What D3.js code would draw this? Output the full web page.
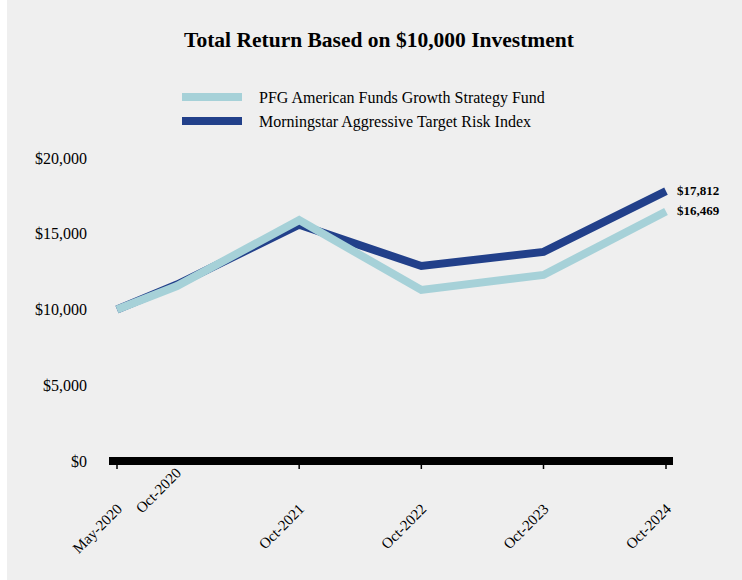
<!DOCTYPE html>
<html>
<head>
<meta charset="utf-8">
<script src="https://cdn.jsdelivr.net/npm/d3@7"></script>
<style>
  html, body { margin: 0; padding: 0; background: #fff; }
  svg { display: block; }
</style>
</head>
<body>
<svg id="chart" width="742" height="580"></svg>
<script>
const periods = ["May-2020", "Oct-2020", "Oct-2021", "Oct-2022", "Oct-2023", "Oct-2024"];
const fundValues = [10000, 11550, 15900, 11290, 12280, 16469];
const indexValues = [10000, 11650, 15600, 12870, 13800, 17812];
const yTicks = [0, 5000, 10000, 15000, 20000];
const seriesNames = ["PFG American Funds Growth Strategy Fund", "Morningstar Aggressive Target Risk Index"];

const COLORS = { fund: "#a6d1d8", index: "#22408a", bg: "#efefef", text: "#000" };
const FONT = "'Liberation Serif', 'Times New Roman', serif";

const svg = d3.select("#chart");
const W = 742, H = 580;

svg.append("rect").attr("x", 7).attr("y", 0).attr("width", W - 7).attr("height", H)
  .attr("fill", COLORS.bg);

const parse = d3.timeParse("%b-%Y");
const dates = periods.map(parse);

// first gap is drawn a bit wider than the calendar would give
const xScale = d3.scaleTime()
  .domain([dates[0], dates[1], dates[dates.length - 1]])
  .range([117, 177, 666]);
const yScale = d3.scaleLinear().domain([0, 20000]).range([461, 158]);

// Title
svg.append("text")
  .attr("x", 379).attr("y", 47)
  .attr("text-anchor", "middle")
  .attr("font-family", FONT).attr("font-weight", "bold").attr("font-size", "21.5px")
  .attr("fill", COLORS.text)
  .text("Total Return Based on $10,000 Investment");

// Legend
const legend = svg.append("g");
[COLORS.fund, COLORS.index].forEach((c, i) => {
  const y = 97 + i * 24;
  legend.append("line")
    .attr("x1", 182).attr("x2", 242).attr("y1", y).attr("y2", y)
    .attr("stroke", c).attr("stroke-width", 8);
  legend.append("text")
    .attr("x", 259).attr("y", y + 6)
    .attr("font-family", FONT).attr("font-size", "16px").attr("fill", COLORS.text)
    .text(seriesNames[i]);
});

// Y axis labels
const yAxis = d3.axisLeft(yScale).tickValues(yTicks).tickSize(0).tickPadding(0)
  .tickFormat(d => "$" + d3.format(",")(d));
const gy = svg.append("g").attr("transform", "translate(87,0)").call(yAxis);
gy.select(".domain").remove();
gy.selectAll("text").attr("font-family", FONT).attr("font-size", "16px").attr("fill", COLORS.text);

// X axis: thick bar + ticks
const gx = svg.append("g");
gx.append("line")
  .attr("x1", xScale(dates[0]) - 8).attr("x2", xScale(dates[dates.length - 1]) + 7)
  .attr("y1", yScale(0)).attr("y2", yScale(0))
  .attr("stroke", "#000").attr("stroke-width", 8);
gx.selectAll(".tick").data(dates.filter((d, i) => i !== 1)).join("line")
  .attr("x1", d => xScale(d)).attr("x2", d => xScale(d))
  .attr("y1", yScale(0)).attr("y2", yScale(0) + 8)
  .attr("stroke", "#000").attr("stroke-width", 1.5);
gx.selectAll(".xlab").data(dates).join("text")
  .attr("transform", (d, i) => `translate(${xScale(d) + (i === 1 ? 5 : 6)}, ${i === 1 ? 474 : 510}) rotate(-45)`)
  .attr("text-anchor", "end")
  .attr("font-family", FONT).attr("font-size", "15px").attr("fill", COLORS.text)
  .text((d, i) => periods[i]);

// Lines
const line = d3.line().x((d, i) => xScale(dates[i])).y(d => yScale(d));
svg.append("path").datum(indexValues).attr("d", line)
  .attr("fill", "none").attr("stroke", COLORS.index).attr("stroke-width", 8);
svg.append("path").datum(fundValues).attr("d", line)
  .attr("fill", "none").attr("stroke", COLORS.fund).attr("stroke-width", 8);

// End labels
const last = periods.length - 1;
[indexValues[last], fundValues[last]].forEach(v => {
  svg.append("text")
    .attr("x", xScale(dates[last]) + 11).attr("y", yScale(v) + 4)
    .attr("font-family", FONT).attr("font-weight", "bold").attr("font-size", "13px")
    .attr("fill", COLORS.text)
    .text("$" + d3.format(",")(v));
});
</script>
</body>
</html>
